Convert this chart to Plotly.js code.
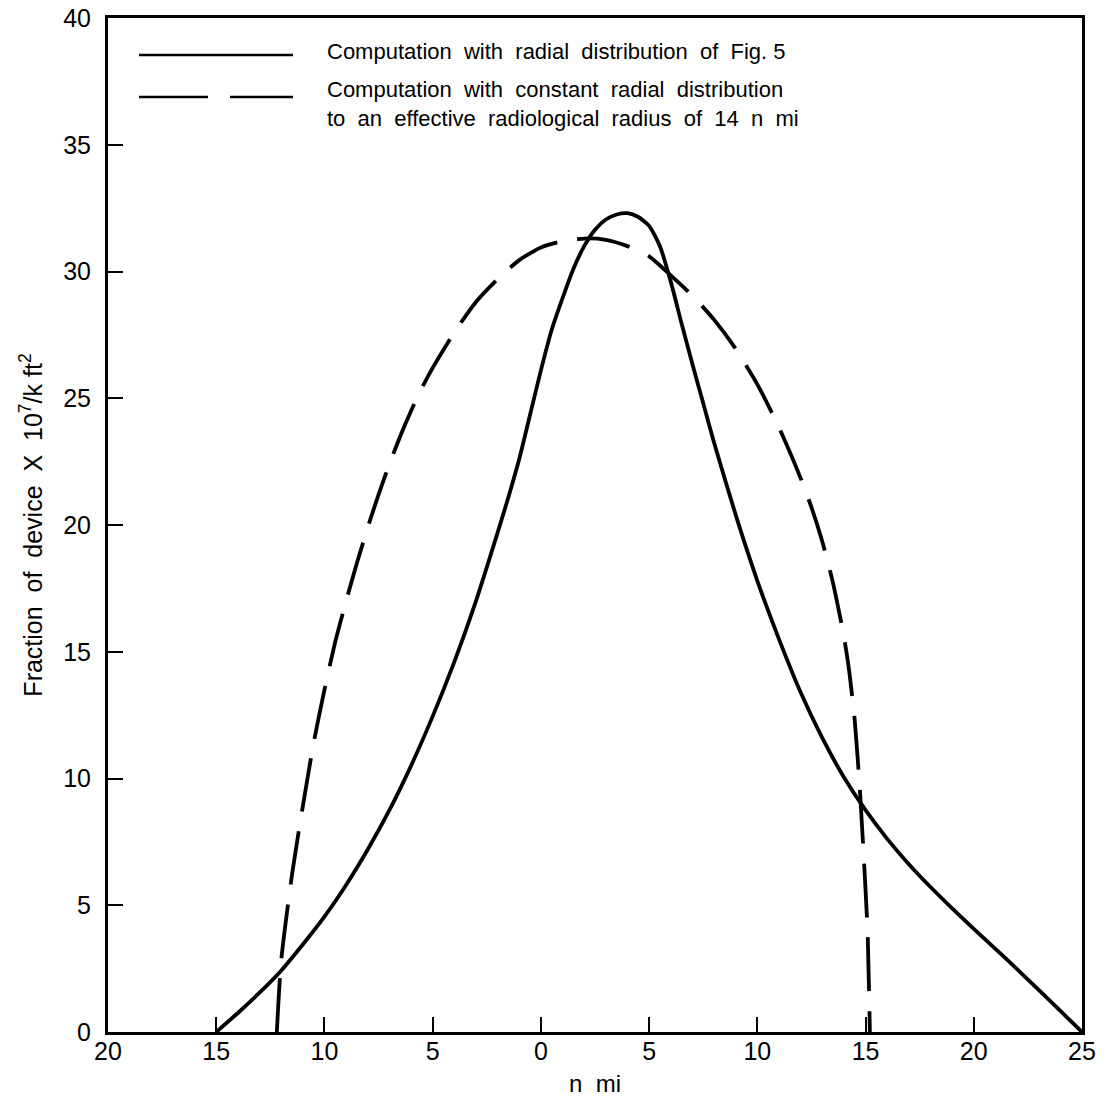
<!DOCTYPE html>
<html>
<head>
<meta charset="utf-8">
<script src="https://cdn.plot.ly/plotly-3.0.1.min.js"></script>
<style>
  html, body { margin: 0; padding: 0; background: #fff; }
  #chart { width: 1107px; height: 1098px; }
</style>
</head>
<body>
<div id="chart"></div>
<script>
// Solid curve: computation with radial distribution of Fig. 5
const solidX = [-15, -14, -13, -12, -11, -10, -9, -8, -7, -6, -5, -4, -3, -2, -1.5, -1, -0.5, 0, 0.5, 1, 1.5, 2, 2.5, 3, 3.5, 4, 4.5, 5, 5.5, 6, 6.5, 7, 7.5, 8, 9, 10, 11, 12, 13, 14, 15, 16, 17, 18, 19, 20, 21, 22, 23, 24, 25];
const solidY = [0, 0.75, 1.55, 2.42, 3.45, 4.55, 5.8, 7.2, 8.75, 10.5, 12.45, 14.6, 17.0, 19.7, 21.1, 22.6, 24.35, 26.1, 27.7, 28.95, 30.1, 31.0, 31.65, 32.05, 32.25, 32.3, 32.15, 31.8, 31.0, 29.6, 27.95, 26.35, 24.8, 23.25, 20.4, 17.8, 15.5, 13.4, 11.6, 10.05, 8.75, 7.62, 6.62, 5.72, 4.88, 4.07, 3.28, 2.48, 1.66, 0.83, 0];

// Dashed curve: constant radial distribution to effective radius of 14 n mi
const dashX = [-12.2, -12.0, -11.5, -11, -10.5, -10, -9.5, -9, -8.5, -8, -7.5, -7, -6.5, -6, -5.5, -5, -4, -3, -2, -1, 0, 1, 2, 3, 4, 5, 6, 7, 8, 9, 10, 11, 12, 12.5, 13, 13.5, 14, 14.25, 14.5, 14.75, 15, 15.1, 15.2];
const dashY = [0, 2.8, 6.2, 8.9, 11.4, 13.5, 15.4, 17.0, 18.5, 19.9, 21.2, 22.4, 23.5, 24.5, 25.4, 26.2, 27.6, 28.8, 29.7, 30.45, 30.95, 31.2, 31.3, 31.25, 31.0, 30.6, 29.85, 29.05, 28.1, 26.95, 25.55, 23.85, 21.85, 20.7, 19.35, 17.7, 15.6, 14.2, 12.3, 9.4, 5.6, 3.8, 0];

const xTickVals = [-20, -15, -10, -5, 0, 5, 10, 15, 20, 25];
const xTickText = ['20', '15', '10', '5', '0', '5', '10', '15', '20', '25'];
const yTickVals = [0, 5, 10, 15, 20, 25, 30, 35, 40];

const legendLabels = [
  'Computation  with  radial  distribution  of  Fig. 5',
  'Computation  with  constant  radial  distribution<br>to  an  effective  radiological  radius  of  14  n  mi'
];

const FONT = 'Liberation Sans, Arial, sans-serif';

const traces = [
  { x: solidX, y: solidY, mode: 'lines', line: { color: '#000', width: 3.8, shape: 'spline', smoothing: 0.6 }, showlegend: false, hoverinfo: 'skip' },
  { x: dashX, y: dashY, mode: 'lines', line: { color: '#000', width: 3.8, dash: '54px,20px', shape: 'spline', smoothing: 0.6 }, showlegend: false, hoverinfo: 'skip' }
];

const L = 108, R = 1082, T = 18, B = 1032;
const W = 1107, H = 1098;
const px = v => (v - L) / (R - L);
const py = v => (B - v) / (B - T);

const layout = {
  width: W, height: H,
  margin: { l: L, r: W - R, t: T, b: H - B, pad: 0 },
  paper_bgcolor: '#fff', plot_bgcolor: '#fff',
  font: { family: FONT, color: '#000', size: 22 },
  showlegend: false,
  xaxis: {
    range: [-20, 25], tickmode: 'array', tickvals: xTickVals, ticktext: xTickText,
    ticks: 'inside', ticklen: 15, tickwidth: 2, tickcolor: '#000',
    showline: true, linewidth: 3, linecolor: '#000', mirror: true,
    showgrid: false, zeroline: false,
    tickfont: { family: FONT, size: 25, color: '#000' },
    ticklabelstandoff: -5,
    title: { text: 'n  mi', font: { family: FONT, size: 24, color: '#000' }, standoff: 12 }
  },
  yaxis: {
    range: [0, 40], tickmode: 'array', tickvals: yTickVals,
    ticks: 'inside', ticklen: 15, tickwidth: 2, tickcolor: '#000',
    showline: true, linewidth: 3, linecolor: '#000', mirror: true,
    showgrid: false, zeroline: false,
    tickfont: { family: FONT, size: 25, color: '#000' },
    ticklabelstandoff: 9,
    title: { text: 'Fraction  of  device  X  10<sup>7</sup>/k ft<sup>2</sup>', font: { family: FONT, size: 25, color: '#000' }, standoff: 14 }
  },
  shapes: [
    { type: 'line', xref: 'paper', yref: 'paper', x0: px(139), x1: px(293), y0: py(55), y1: py(55), line: { color: '#000', width: 2.5 } },
    { type: 'line', xref: 'paper', yref: 'paper', x0: px(139), x1: px(208), y0: py(97), y1: py(97), line: { color: '#000', width: 2.5 } },
    { type: 'line', xref: 'paper', yref: 'paper', x0: px(230), x1: px(293), y0: py(97), y1: py(97), line: { color: '#000', width: 2.5 } }
  ],
  annotations: [
    { xref: 'paper', yref: 'paper', x: px(325), y: py(52), xanchor: 'left', yanchor: 'middle', showarrow: false, align: 'left', text: legendLabels[0], font: { family: FONT, size: 22, color: '#000' } },
    { xref: 'paper', yref: 'paper', x: px(325), y: py(104), xanchor: 'left', yanchor: 'middle', showarrow: false, align: 'left', text: legendLabels[1], font: { family: FONT, size: 22, color: '#000' } }
  ]
};

Plotly.newPlot('chart', traces, layout, { staticPlot: true, displayModeBar: false });
</script>
</body>
</html>
